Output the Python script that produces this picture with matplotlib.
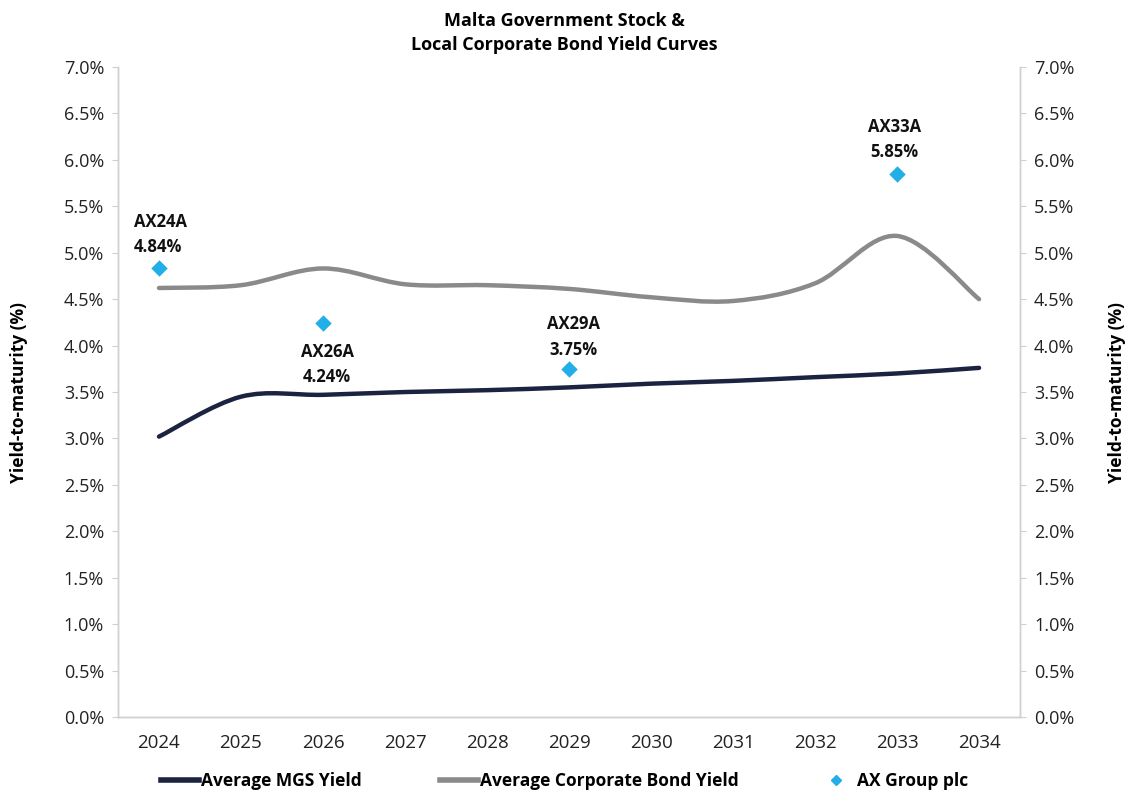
import numpy as np
import matplotlib.pyplot as plt
from matplotlib.path import Path
from matplotlib.patches import PathPatch
from matplotlib.ticker import FuncFormatter, MultipleLocator
from matplotlib.lines import Line2D

plt.rcParams['font.family'] = ['Open Sans', 'DejaVu Sans']

# data
years = ['2024', '2025', '2026', '2027', '2028', '2029', '2030', '2031', '2032', '2033', '2034']
mgs_yield = [3.02, 3.45, 3.47, 3.50, 3.52, 3.55, 3.59, 3.62, 3.66, 3.70, 3.76]
corp_yield = [4.62, 4.65, 4.83, 4.66, 4.65, 4.61, 4.52, 4.48, 4.67, 5.18, 4.50]
ax_bonds = ['AX24A', 'AX26A', 'AX29A', 'AX33A']
ax_years = ['2024', '2026', '2029', '2033']
ax_yield = [4.84, 4.24, 3.75, 5.85]

navy = '#1b2340'
grey = '#8a8a8a'
blue = '#22aee6'


def smooth_path(xs, ys):
    # excel-style smoothed line drawn as bezier curves through the points
    xs = np.asarray(xs, float)
    ys = np.asarray(ys, float)
    pts = np.column_stack([xs, ys])
    verts = [pts[0]]
    codes = [Path.MOVETO]
    n = len(pts)
    for i in range(n - 1):
        p0 = pts[i - 1] if i > 0 else pts[i]
        p1 = pts[i]
        p2 = pts[i + 1]
        p3 = pts[i + 2] if i + 2 < n else pts[i + 1]
        c1 = p1 + (p2 - p0) / 6.0
        c2 = p2 - (p3 - p1) / 6.0
        verts += [c1, c2, p2]
        codes += [Path.CURVE4] * 3
    return Path(verts, codes)


fig = plt.figure(figsize=(11.29, 7.96), dpi=100)
ax = fig.add_axes([0.1045, 0.099, 0.799, 0.817])
x = np.arange(len(years))

ax.add_patch(PathPatch(smooth_path(x, mgs_yield), fill=False, edgecolor=navy, lw=3.2,
                       capstyle='round', zorder=3))
ax.add_patch(PathPatch(smooth_path(x, corp_yield), fill=False, edgecolor=grey, lw=3.2,
                       capstyle='round', zorder=3))

ax_x = [years.index(y) for y in ax_years]
ax.scatter(ax_x, ax_yield, marker='D', s=70, color=blue, zorder=4, linewidths=0)

# bond labels
lab_kw = dict(fontsize=12, fontweight='bold', color='#111111', linespacing=1.55)
ax.annotate(f'{ax_bonds[0]}\n{ax_yield[0]:.2f}%', (ax_x[0], ax_yield[0]), xytext=(-18, 8),
            textcoords='offset points', ha='left', va='bottom', **lab_kw)
ax.annotate(f'{ax_bonds[1]}\n{ax_yield[1]:.2f}%', (ax_x[1], ax_yield[1]), xytext=(3, -14),
            textcoords='offset points', ha='center', va='top', **lab_kw)
ax.annotate(f'{ax_bonds[2]}\n{ax_yield[2]:.2f}%', (ax_x[2], ax_yield[2]), xytext=(3, 7),
            textcoords='offset points', ha='center', va='bottom', **lab_kw)
ax.annotate(f'{ax_bonds[3]}\n{ax_yield[3]:.2f}%', (ax_x[3], ax_yield[3]), xytext=(-2, 9),
            textcoords='offset points', ha='center', va='bottom', **lab_kw)

ax.set_xlim(-0.5, len(years) - 0.5)
ax.set_ylim(0, 7)
ax.set_xticks(x)
ax.set_xticklabels(years)
pct = FuncFormatter(lambda v, p: f'{v:.1f}%')
ax.yaxis.set_major_locator(MultipleLocator(0.5))
ax.yaxis.set_major_formatter(pct)

ax2 = ax.twinx()
ax2.set_ylim(0, 7)
ax2.yaxis.set_major_locator(MultipleLocator(0.5))
ax2.yaxis.set_major_formatter(pct)

for a in (ax, ax2):
    for s in a.spines.values():
        s.set_color('#d0d0d0')
        s.set_linewidth(1)
    a.spines['top'].set_visible(False)
    a.tick_params(axis='y', labelsize=13, colors='#222222', length=4, color='#d0d0d0', pad=6)
ax.spines['bottom'].set_color('#bdbdbd')
ax.tick_params(axis='x', labelsize=13.5, colors='#222222', length=0, pad=12)

ax.set_ylabel('Yield-to-maturity (%)', fontsize=12.5, fontweight='bold', labelpad=26)
ax2.set_ylabel('Yield-to-maturity (%)', fontsize=12.5, fontweight='bold', labelpad=24, rotation=90)

fig.suptitle('Malta Government Stock &\nLocal Corporate Bond Yield Curves', x=0.5, y=0.985,
             fontsize=13, fontweight='bold', linespacing=1.4)

handles = [Line2D([], [], color=navy, lw=4),
           Line2D([], [], color=grey, lw=4),
           Line2D([], [], color=blue, marker='D', lw=0, markersize=5)]
fig.legend(handles, ['Average MGS Yield', 'Average Corporate Bond Yield', 'AX Group plc'],
           loc='lower center', bbox_to_anchor=(0.5, -0.012), ncol=3, frameon=False,
           prop={'size': 12.5, 'weight': 'bold'}, handlelength=2.2, handletextpad=0.1,
           columnspacing=4.5)

fig.savefig('out.png', dpi=100)
